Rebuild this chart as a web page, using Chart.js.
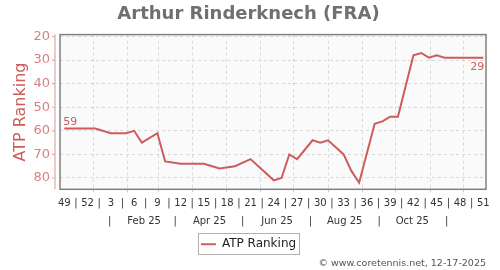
<!DOCTYPE html>
<html>
<head>
<meta charset="utf-8">
<script src="https://cdn.jsdelivr.net/npm/chart.js@4.4.1/dist/chart.umd.min.js"></script>
<style>
  body { margin: 0; background: #fff; }
</style>
</head>
<body>
<canvas id="myChart" width="500" height="270"></canvas>
<script>
// weeks counted from ISO week 49 of 2024 (index 0 = 2024-W49)
const weekIdx = [0, 4, 6, 8, 9, 10, 12, 13, 15, 18, 20, 22, 24, 27, 28, 29, 30, 32, 33, 34, 36, 37, 38, 40, 41, 42, 43, 45, 46, 47, 48, 49, 54];
const ranks = [59, 59, 61, 61, 60, 65, 61, 73, 74, 74, 76, 75, 72, 81, 80, 70, 72, 64, 65, 64, 70, 77, 82, 57, 56, 54, 54, 28, 27, 29, 28, 29, 29];

// week number labels, one every 3 weeks
const weekLabels = ['49', '52', '3', '6', '9', '12', '15', '18', '21', '24', '27', '30', '33', '36', '39', '42', '45', '48', '51'];
// second row, mid-month Jan..Nov 2025
const monthLabels = ['|', 'Feb 25', '|', 'Apr 25', '|', 'Jun 25', '|', 'Aug 25', '|', 'Oct 25', '|'];
const rankTicks = [20, 30, 40, 50, 60, 70, 80];

const lineColor = '#cd5c5c';
const startDay = Date.UTC(2024, 11, 6);
const dayToIdx = function (y, m, d) {
    return (Date.UTC(y, m, d) - startDay) / (7 * 864e5);
};

const points = [];
for (var i = 0; i < weekIdx.length; i++) {
    points.push({ x: weekIdx[i], y: ranks[i] });
}

const plotFrame = {
    id: 'plotFrame',
    beforeDraw(chart) {
        const a = chart.chartArea;
        const ctx = chart.ctx;
        ctx.save();
        ctx.fillStyle = '#fafafa';
        ctx.fillRect(a.left, a.top, a.right - a.left, a.bottom - a.top);
        ctx.restore();
    },
    afterDraw(chart) {
        const a = chart.chartArea;
        const ctx = chart.ctx;
        const y = chart.scales.y;
        ctx.save();
        ctx.strokeStyle = '#808080';
        ctx.lineWidth = 1.5;
        ctx.strokeRect(a.left, a.top, a.right - a.left, a.bottom - a.top);
        // separate pink axis line with small ticks
        ctx.strokeStyle = '#e2a8a8';
        ctx.lineWidth = 1.2;
        ctx.beginPath();
        ctx.moveTo(a.left - 5, a.top);
        ctx.lineTo(a.left - 5, a.bottom);
        rankTicks.forEach(function (v) {
            const py = y.getPixelForValue(v);
            ctx.moveTo(a.left - 8, py);
            ctx.lineTo(a.left - 5, py);
        });
        ctx.stroke();
        // legend frame
        const hb = chart.legend.legendHitBoxes[0];
        if (hb) {
            ctx.strokeStyle = '#b0b0b0';
            ctx.lineWidth = 1;
            ctx.strokeRect(Math.round(hb.left) - 2.5, Math.round(hb.top) - 4.5, Math.round(hb.width) + 6, hb.height + 9);
        }
        ctx.restore();
    },
    afterDatasetsDraw(chart) {
        const meta = chart.getDatasetMeta(0).data;
        const ctx = chart.ctx;
        const first = meta[0], last = meta[meta.length - 1];
        ctx.save();
        ctx.fillStyle = lineColor;
        ctx.font = '11px "DejaVu Sans"';
        ctx.textAlign = 'left';
        ctx.textBaseline = 'alphabetic';
        ctx.fillText(String(ranks[0]), first.x - 1, first.y - 3);
        ctx.textAlign = 'right';
        ctx.textBaseline = 'top';
        ctx.fillText(String(ranks[ranks.length - 1]), last.x + 1, last.y + 4);
        ctx.restore();
    }
};

Chart.defaults.font.family = '"DejaVu Sans", sans-serif';

const ctx = document.getElementById('myChart').getContext('2d');
const myChart = new Chart(ctx, {
    type: 'line',
    data: {
        datasets: [{
            label: 'ATP Ranking',
            data: points,
            borderColor: lineColor,
            backgroundColor: lineColor,
            borderWidth: 2,
            pointRadius: 0,
            fill: false,
            tension: 0,
            xAxisID: 'x'
        }]
    },
    options: {
        responsive: false,
        animation: false,
        layout: { padding: { left: 11, right: 14, top: 1, bottom: 0 } },
        plugins: {
            title: {
                display: true,
                text: 'Arthur Rinderknech (FRA)',
                color: '#707070',
                font: { size: 18, weight: 'bold' },
                padding: { top: 3, bottom: 9 }
            },
            subtitle: {
                display: true,
                position: 'bottom',
                align: 'end',
                text: '\u00a9 www.coretennis.net, 12-17-2025',
                color: '#555',
                font: { size: 9.5, lineHeight: 0.6 },
                padding: { top: 0, bottom: 4 }
            },
            legend: {
                position: 'bottom',
                labels: {
                    usePointStyle: true,
                    pointStyle: 'line',
                    pointStyleWidth: 15,
                    color: '#222',
                    font: { size: 12 },
                    padding: 11
                }
            },
            tooltip: { enabled: false }
        },
        scales: {
            xg: {
                type: 'linear',
                position: 'bottom',
                weight: 0,
                min: -0.55,
                max: 54.35,
                afterBuildTicks: function (axis) {
                    const t = [];
                    for (var m = 0; m < 12; m++) {
                        t.push({ value: dayToIdx(2025, m, 1) });
                    }
                    axis.ticks = t;
                },
                ticks: { display: false },
                grid: { color: '#d8d8d8', tickLength: 3, tickColor: '#c8c8c8', tickBorderDash: [] },
                border: { display: false, dash: [3, 3] }
            },
            x: {
                type: 'linear',
                position: 'bottom',
                weight: 1,
                min: -0.55,
                max: 54.35,
                afterBuildTicks: function (axis) {
                    const t = [];
                    for (var v = 0; v <= 54; v += 1.5) {
                        t.push({ value: v });
                    }
                    axis.ticks = t;
                },
                ticks: {
                    autoSkip: false,
                    maxRotation: 0,
                    color: '#333',
                    font: { size: 10 },
                    padding: 5.5,
                    callback: function (v) {
                        if (v % 3 === 0) {
                            return weekLabels[v / 3];
                        }
                        return '|';
                    }
                },
                grid: { display: false, drawTicks: false },
                border: { display: false }
            },
            x2: {
                type: 'linear',
                position: 'bottom',
                weight: 2,
                min: -0.55,
                max: 54.35,
                afterBuildTicks: function (axis) {
                    const t = [];
                    for (var m = 0; m < monthLabels.length; m++) {
                        t.push({ value: dayToIdx(2025, m, 16) });
                    }
                    axis.ticks = t;
                },
                ticks: {
                    autoSkip: false,
                    maxRotation: 0,
                    color: '#333',
                    font: { size: 10 },
                    padding: 0,
                    callback: function (v, i) {
                        return monthLabels[i];
                    }
                },
                grid: { display: false, drawTicks: false },
                border: { display: false }
            },
            y: {
                reverse: true,
                min: 19.2,
                max: 84.8,
                afterBuildTicks: function (axis) {
                    axis.ticks = rankTicks.map(function (v) { return { value: v }; });
                },
                afterFit: function (axis) {
                    axis.width = 49;
                },
                title: {
                    display: true,
                    text: 'ATP Ranking',
                    color: lineColor,
                    font: { size: 16 },
                    padding: { top: 0, bottom: 3 }
                },
                ticks: {
                    color: '#d98080',
                    font: { size: 13 },
                    padding: 10
                },
                grid: { color: '#d8d8d8', drawTicks: false },
                border: { display: false, dash: [3, 3] }
            }
        }
    },
    plugins: [plotFrame]
});
</script>
</body>
</html>
